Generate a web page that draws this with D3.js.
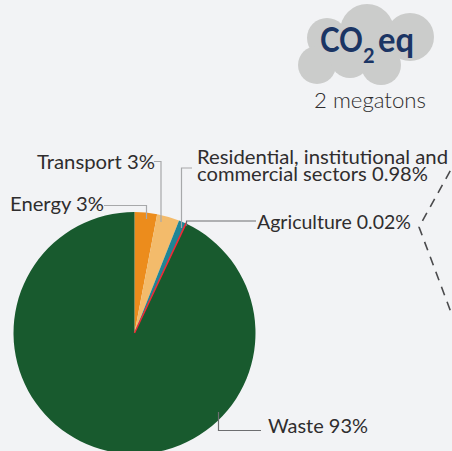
<!DOCTYPE html>
<html>
<head>
<meta charset="utf-8">
<script src="https://cdnjs.cloudflare.com/ajax/libs/d3/7.8.5/d3.min.js"></script>
<style>
  html, body { margin: 0; padding: 0; background: #f2f3f5; }
  svg { display: block; }
  text { font-family: Lato, "Open Sans", sans-serif; fill: #2f2d2e; }
</style>
</head>
<body>
<div id="chart"></div>
<script>
const sectors = ['Energy', 'Transport', 'Residential', 'Agriculture', 'Waste'];
const shares = [3, 3, 0.98, 0.02, 93];
const sectorColors = ['#ec8c1c', '#f3bb6b', '#1f8595', '#f02a35', '#185a2e'];

const width = 452;
const height = 451;
const cx = 134.5;
const cy = 333;
const radius = 121;

const svg = d3.select('#chart').append('svg')
  .attr('width', width)
  .attr('height', height);

// cloud behind the CO2 title
const puffs = [[327, 38, 20], [367, 31, 27], [410, 37, 24], [317, 65, 19], [350, 58, 20], [381, 65, 20]];
svg.append('g').attr('class', 'cloud')
  .selectAll('circle')
  .data(puffs)
  .enter().append('circle')
  .attr('cx', d => d[0])
  .attr('cy', d => d[1])
  .attr('r', d => d[2])
  .attr('fill', '#cbcccb');

const navy = '#1b3564';
const title = svg.append('g').attr('class', 'title');
title.append('text').attr('x', 320).attr('y', 52)
  .attr('font-size', 34).attr('font-weight', 700).style('fill', navy)
  .attr('textLength', 43).attr('lengthAdjust', 'spacingAndGlyphs').text('CO');
title.append('text').attr('x', 363).attr('y', 63)
  .attr('font-size', 20).attr('font-weight', 700).style('fill', navy).text('2');
title.append('text').attr('x', 378).attr('y', 52)
  .attr('font-size', 34).attr('font-weight', 700).style('fill', navy)
  .attr('textLength', 36).attr('lengthAdjust', 'spacingAndGlyphs').text('eq');
svg.append('text').attr('x', 370).attr('y', 108)
  .attr('text-anchor', 'middle').attr('font-size', 22).attr('font-weight', 300)
  .attr('textLength', 112).attr('lengthAdjust', 'spacingAndGlyphs')
  .text('2 megatons');

const pie = d3.pie().sort(null)(shares);
const arc = d3.arc().innerRadius(0).outerRadius(radius);

// agriculture is a hairline, so it gets a stroke and goes on top of waste
svg.append('g').attr('class', 'pie')
  .attr('transform', `translate(${cx},${cy})`)
  .selectAll('path')
  .data(pie)
  .enter().append('path')
  .attr('d', arc)
  .attr('fill', (d, i) => sectorColors[i])
  .attr('stroke', (d, i) => i === 3 ? sectorColors[i] : 'none')
  .attr('stroke-width', 1.5)
  .filter((d, i) => i === 3)
  .raise();

// leader lines
const leaders = [
  { color: '#a7a8aa', d: 'M104 205.5H146.5V219' },
  { color: '#a7a8aa', d: 'M154 161.5H161V222' },
  { color: '#a7a8aa', d: 'M192 168H181.5V228' },
  { color: '#6d6e70', d: 'M186.5 226V221H256' },
  { color: '#6d6e70', d: 'M218.5 412V430.5H261' }
];
svg.append('g').attr('class', 'leaders')
  .selectAll('path')
  .data(leaders)
  .enter().append('path')
  .attr('d', d => d.d)
  .attr('fill', 'none')
  .attr('stroke', d => d.color)
  .attr('stroke-width', 1.2);

svg.append('path').attr('class', 'callout')
  .attr('d', 'M458 157L419 227L452 315')
  .attr('fill', 'none')
  .attr('stroke', '#4a4a4c')
  .attr('stroke-width', 1.6)
  .attr('stroke-dasharray', '9 7');

const labels = [
  { x: 104, y: 211, anchor: 'end', len: 94, text: 'Energy 3%' },
  { x: 155, y: 169, anchor: 'end', len: 118, text: 'Transport 3%' },
  { x: 197, y: 164, anchor: 'start', len: 251, text: 'Residential, institutional and' },
  { x: 197, y: 181, anchor: 'start', len: 231, text: 'commercial sectors 0.98%' },
  { x: 257, y: 229, anchor: 'start', len: 154, text: 'Agriculture 0.02%' },
  { x: 268, y: 433, anchor: 'start', len: 100, text: 'Waste 93%' }
];
svg.append('g').attr('class', 'labels')
  .selectAll('text')
  .data(labels)
  .enter().append('text')
  .attr('x', d => d.x)
  .attr('y', d => d.y)
  .attr('text-anchor', d => d.anchor)
  .attr('font-size', 20)
  .attr('textLength', d => d.len)
  .attr('lengthAdjust', 'spacingAndGlyphs')
  .text(d => d.text);
</script>
</body>
</html>
